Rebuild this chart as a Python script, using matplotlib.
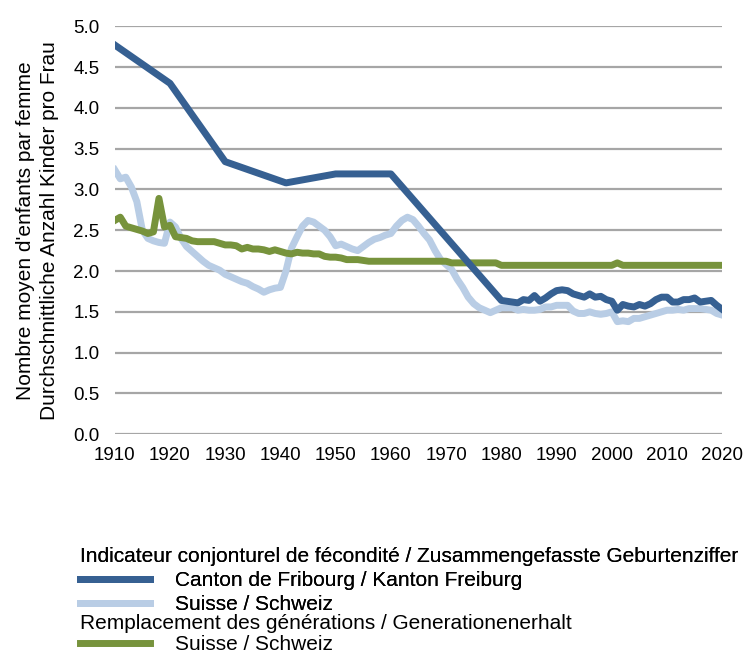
import matplotlib
matplotlib.use("Agg")
import matplotlib.pyplot as plt
from matplotlib.lines import Line2D

plt.rcParams['font.family'] = ['Liberation Sans', 'DejaVu Sans']

# Canton de Fribourg (sparse before 1980, annual after)
fr_years = [1910, 1920, 1930, 1941, 1950, 1960] + list(range(1980, 2021))
fr_values = [4.77, 4.30, 3.34, 3.08, 3.19, 3.19,
             1.64, 1.63, 1.62, 1.61, 1.65, 1.64, 1.70, 1.63, 1.67, 1.72,
             1.76, 1.77, 1.76, 1.72, 1.70, 1.68, 1.72, 1.68, 1.69, 1.65,
             1.63, 1.52, 1.59, 1.57, 1.56, 1.59, 1.57, 1.60, 1.65, 1.68,
             1.68, 1.62, 1.62, 1.65, 1.65, 1.67, 1.62, 1.63, 1.64, 1.58,
             1.53]

# Suisse, annual 1910-2020
ch_years = list(range(1910, 2021))
ch_values = [3.24, 3.13, 3.15, 3.03, 2.85, 2.50, 2.40, 2.37, 2.35, 2.34,
             2.60, 2.54, 2.40, 2.30, 2.24, 2.18, 2.12, 2.07, 2.04, 2.01,
             1.96, 1.93, 1.90, 1.87, 1.85, 1.81, 1.78, 1.74, 1.77, 1.79,
             1.80, 2.00, 2.28, 2.42, 2.55, 2.62, 2.60, 2.55, 2.50, 2.42,
             2.31, 2.33, 2.30, 2.27, 2.25, 2.30, 2.35, 2.39, 2.41, 2.44,
             2.46, 2.55, 2.62, 2.66, 2.63, 2.55, 2.46, 2.38, 2.25, 2.14,
             2.08, 2.02, 1.90, 1.80, 1.68, 1.60, 1.55, 1.52, 1.49, 1.52,
             1.55, 1.55, 1.55, 1.52, 1.53, 1.52, 1.52, 1.53, 1.56, 1.56,
             1.58, 1.58, 1.58, 1.51, 1.48, 1.48, 1.50, 1.48, 1.47, 1.48,
             1.50, 1.38, 1.39, 1.38, 1.42, 1.42, 1.44, 1.46, 1.48, 1.50,
             1.52, 1.52, 1.53, 1.52, 1.54, 1.54, 1.54, 1.53, 1.52, 1.48,
             1.46]

# Remplacement des generations, Suisse, annual 1910-2020
rep_values = [2.62, 2.66, 2.55, 2.53, 2.51, 2.49, 2.46, 2.48, 2.89, 2.54,
              2.56, 2.42, 2.41, 2.40, 2.37, 2.36, 2.36, 2.36, 2.36, 2.34,
              2.32, 2.32, 2.31, 2.27, 2.29, 2.27, 2.27, 2.26, 2.24, 2.26,
              2.24, 2.22, 2.21, 2.23, 2.22, 2.22, 2.21, 2.21, 2.18, 2.17,
              2.17, 2.16, 2.14, 2.14, 2.14, 2.13, 2.12, 2.12, 2.12, 2.12,
              2.12, 2.12, 2.12, 2.12, 2.12, 2.12, 2.12, 2.12, 2.12, 2.12,
              2.12, 2.10, 2.10, 2.10, 2.10, 2.10, 2.10, 2.10, 2.10, 2.10,
              2.07, 2.07, 2.07, 2.07, 2.07, 2.07, 2.07, 2.07, 2.07, 2.07,
              2.07, 2.07, 2.07, 2.07, 2.07, 2.07, 2.07, 2.07, 2.07, 2.07,
              2.07, 2.10, 2.07, 2.07, 2.07, 2.07, 2.07, 2.07, 2.07, 2.07,
              2.07, 2.07, 2.07, 2.07, 2.07, 2.07, 2.07, 2.07, 2.07, 2.07,
              2.07]

x_ticks = list(range(1910, 2021, 10))
y_ticks = [0.0, 0.5, 1.0, 1.5, 2.0, 2.5, 3.0, 3.5, 4.0, 4.5, 5.0]

c_fr = '#366092'
c_ch = '#B9CDE5'
c_rep = '#77933C'
fs_tick = 13.5
fs = 15
lw = 5

fig = plt.figure(figsize=(7.5, 6.55), dpi=100)
ax = fig.add_axes([0.153, 0.337, 0.81, 0.623])

ax.plot(ch_years, ch_values, color=c_ch, lw=lw, solid_joinstyle='round', zorder=3)
ax.plot(ch_years, rep_values, color=c_rep, lw=lw, solid_joinstyle='round', zorder=4)
ax.plot(fr_years, fr_values, color=c_fr, lw=lw, solid_joinstyle='round', zorder=5)

ax.set_xlim(1910, 2020)
ax.set_ylim(0, 5)
ax.set_xticks(x_ticks)
ax.set_yticks(y_ticks)
ax.set_yticklabels([f"{v:.1f}" for v in y_ticks])
ax.tick_params(length=0, labelsize=fs_tick, colors='#000000')
ax.tick_params(axis='y', pad=11)
ax.tick_params(axis='x', pad=9)
ax.grid(axis='y', color='#A6A6A6', lw=1.6, zorder=0)
ax.set_axisbelow(True)
for s in ax.spines.values():
    s.set_visible(False)

ax.set_ylabel("Nombre moyen d'enfants par femme\nDurchschnittliche Anzahl Kinder pro Frau",
              fontsize=fs, labelpad=10, linespacing=1.35)

h_fr = Line2D([], [], color=c_fr, lw=lw)
h_ch = Line2D([], [], color=c_ch, lw=lw)
h_rep = Line2D([], [], color=c_rep, lw=lw)

leg_kw = dict(loc='upper left', frameon=False, fontsize=fs, title_fontsize=fs,
              alignment='left', handlelength=3.35, handletextpad=1.2,
              borderpad=0, borderaxespad=0)

leg1 = fig.legend([h_fr, h_ch],
                  ["Canton de Fribourg / Kanton Freiburg", "Suisse / Schweiz"],
                  title="Indicateur conjonturel de fécondité / Zusammengefasste Geburtenziffer",
                  bbox_to_anchor=(80 / 750, 1 - 547 / 655), labelspacing=0.24, **leg_kw)
fig.add_artist(leg1)
fig.legend([h_rep], ["Suisse / Schweiz"],
           title="Remplacement des générations / Generationenerhalt",
           bbox_to_anchor=(80 / 750, 1 - 614 / 655), labelspacing=0.12, **leg_kw)

fig.savefig("out.png", dpi=100)
